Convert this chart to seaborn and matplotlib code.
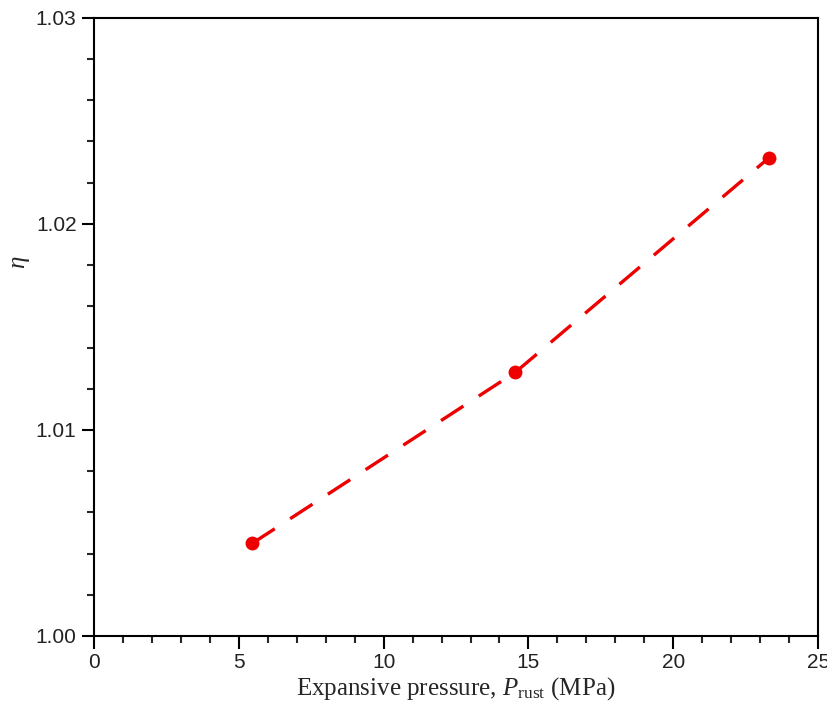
import numpy as np
import pandas as pd
import matplotlib
matplotlib.use("Agg")
import matplotlib.pyplot as plt
import seaborn as sns
from matplotlib.ticker import MultipleLocator

# data
pressure = [5.47, 14.55, 23.3]
eta = [1.0045, 1.0128, 1.0232]

sns.set_style("ticks")
plt.rcParams["font.family"] = ["Liberation Sans", "DejaVu Sans"]
plt.rcParams["mathtext.fontset"] = "custom"
plt.rcParams["mathtext.rm"] = "Liberation Serif"
plt.rcParams["mathtext.it"] = "Liberation Serif:italic"

df = pd.DataFrame({"P": pressure, "eta": eta})

fig = plt.figure(figsize=(8.28, 7.13), dpi=100)
ax = fig.add_axes([0.1135, 0.108, 0.8745, 0.867])

sns.lineplot(data=df, x="P", y="eta", ax=ax, color="#ee0000", linewidth=2.4,
             linestyle=(0, (8, 5.5)), marker="o", markersize=10,
             markeredgewidth=0, sort=False)

ax.set_xlim(0, 25)
ax.set_ylim(1.00, 1.03)
ax.xaxis.set_major_locator(MultipleLocator(5))
ax.xaxis.set_minor_locator(MultipleLocator(1))
ax.yaxis.set_major_locator(MultipleLocator(0.01))
ax.yaxis.set_minor_locator(MultipleLocator(0.002))
ax.yaxis.set_major_formatter(plt.FormatStrFormatter("%.2f"))

ax.tick_params(which="major", direction="out", length=9, width=1.5,
               labelsize=15, color="black", labelcolor="#222222")
ax.tick_params(which="minor", direction="out", length=5, width=1.5)
for s in ax.spines.values():
    s.set_linewidth(1.5)
    s.set_color("black")
    s.set_visible(True)

ax.set_xlabel(r"Expansive pressure, $\it{P}_{\rm rust}$ (MPa)",
              family="Liberation Serif", fontsize=18, labelpad=2)
ax.set_ylabel(r"$\eta$", fontsize=18, family="Liberation Serif")
ax.yaxis.set_label_coords(-0.085, 0.605)

fig.savefig("out.png", dpi=100)
